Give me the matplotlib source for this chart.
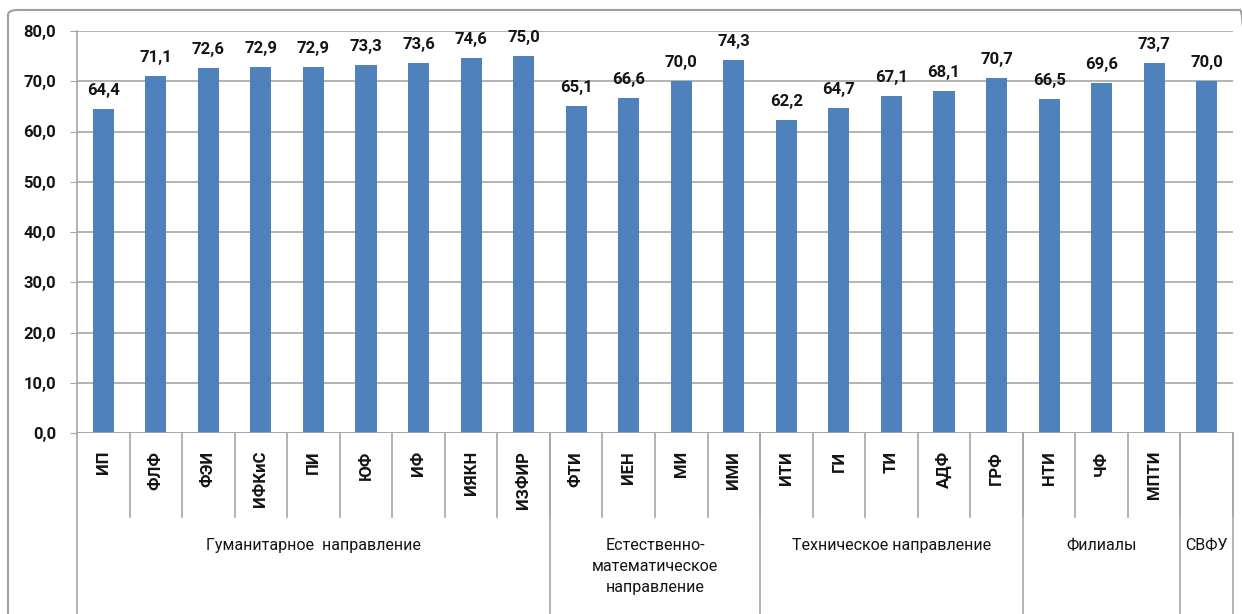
import numpy as np
import matplotlib
matplotlib.use("Agg")
import matplotlib.pyplot as plt
from matplotlib.patches import FancyBboxPatch
from matplotlib.lines import Line2D
import matplotlib.transforms as mtransforms

plt.rcParams['font.family'] = ['Roboto', 'DejaVu Sans']

# data
units = ['ИП', 'ФЛФ', 'ФЭИ', 'ИФКиС', 'ПИ', 'ЮФ', 'ИФ', 'ИЯКН', 'ИЗФИР',
         'ФТИ', 'ИЕН', 'МИ', 'ИМИ',
         'ИТИ', 'ГИ', 'ТИ', 'АДФ', 'ГРФ',
         'НТИ', 'ЧФ', 'МПТИ',
         '']
values = [64.4, 71.1, 72.6, 72.9, 72.9, 73.3, 73.6, 74.6, 75.0,
          65.1, 66.6, 70.0, 74.3,
          62.2, 64.7, 67.1, 68.1, 70.7,
          66.5, 69.6, 73.7,
          70.0]
groups = ['Гуманитарное  направление', 'Естественно-\nматематическое\nнаправление',
          'Техническое направление', 'Филиалы', 'СВФУ']
group_sizes = [9, 4, 5, 3, 1]

GRID = '#a6a6a6'
BAR = '#4f81bd'
TXT = '#141414'

fig = plt.figure(figsize=(12.42, 6.14), dpi=100)
ax = fig.add_axes([77 / 1242, 1 - 433 / 614, (1233 - 77) / 1242, (433 - 31) / 614])

x = np.arange(len(values))
ax.bar(x, values, width=0.4, color=BAR, zorder=3)
for xi, v in zip(x, values):
    ax.text(xi, v + 2.2, f'{v:.1f}'.replace('.', ','), ha='center', va='bottom',
            fontsize=12, fontweight='bold', color=TXT)

ax.set_xlim(-0.5, len(values) - 0.5)
ax.set_ylim(0, 80)
ax.set_yticks(np.arange(0, 81, 10))
ax.set_yticklabels([f'{t:.1f}'.replace('.', ',') for t in np.arange(0, 81, 10)],
                   fontsize=12, fontweight='bold', color=TXT)
ax.tick_params(axis='y', length=5, color=GRID, pad=10)
ax.set_xticks([])
ax.grid(axis='y', color=GRID, linewidth=1.2, zorder=0)
for s in ['top', 'right', 'bottom']:
    ax.spines[s].set_visible(False)
ax.spines['left'].set_color(GRID)
ax.spines['left'].set_linewidth(1.2)
ax.axhline(0, color=GRID, linewidth=1.2, zorder=4)

trans = mtransforms.blended_transform_factory(ax.transData, ax.transAxes)
h = 402.0
y_short = -(517 - 433) / h
y_long = -(614 - 433) / h

# unit labels and short separators
for xi, name in zip(x, units):
    ax.text(xi, -(451 - 433) / h, name, transform=trans, rotation=90,
            ha='center', va='top', fontsize=12, fontweight='bold', color=TXT)
    ax.add_line(Line2D([xi + 0.5, xi + 0.5], [0, y_short], transform=trans,
                       color=GRID, linewidth=1.2, clip_on=False))

# group labels and long separators
start = 0
ax.add_line(Line2D([-0.5, -0.5], [0, y_long], transform=trans,
                   color=GRID, linewidth=1.2, clip_on=False))
for g, n in zip(groups, group_sizes):
    end = start + n
    mid = (start + end - 1) / 2
    ax.text(mid, -(538 - 433) / h, g, transform=trans, ha='center', va='top',
            fontsize=11.5, color=TXT, linespacing=1.5)
    ax.add_line(Line2D([end - 0.5, end - 0.5], [0, y_long], transform=trans,
                       color=GRID, linewidth=1.2, clip_on=False))
    start = end

# outer chart frame
frame = FancyBboxPatch((8 / 1242, -0.05), (1250 - 8) / 1242, 1 - 10 / 614 + 0.05,
                       boxstyle='round,pad=0,rounding_size=0.008',
                       transform=fig.transFigure, fill=False,
                       edgecolor='#a0a0a0', linewidth=1.5)
fig.patches.append(frame)

fig.savefig('out.png', dpi=100)
